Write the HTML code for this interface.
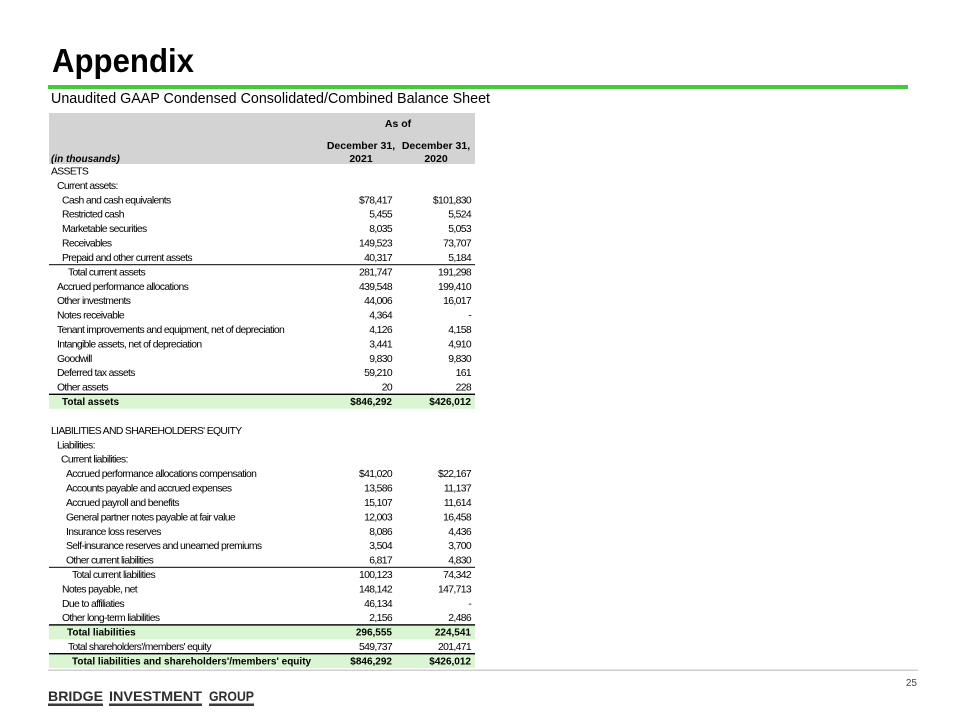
<!DOCTYPE html>
<html>
<head>
<meta charset="utf-8">
<style>
html,body{margin:0;padding:0;background:#fff;}
svg{display:block;}
.r{font-family:"Liberation Sans",Arial,sans-serif;font-size:10.4px;letter-spacing:-0.65px;fill:#000;}
.b{font-family:"Liberation Sans",Arial,sans-serif;font-size:10px;font-weight:bold;fill:#000;}
.h{font-family:"Liberation Sans",Arial,sans-serif;font-size:10.5px;font-weight:bold;fill:#000;}
.logo{font-family:"Liberation Sans",Arial,sans-serif;font-size:14px;font-weight:bold;fill:#2e2e2e;}
</style>
</head>
<body>
<svg width="960" height="720" viewBox="0 0 960 720" xmlns="http://www.w3.org/2000/svg">
<rect x="0" y="0" width="960" height="720" fill="#fff"/>

<!-- Title -->
<text x="52" y="72" font-family="'Liberation Sans',Arial,sans-serif" font-size="33" font-weight="bold" fill="#000" textLength="142" lengthAdjust="spacingAndGlyphs">Appendix</text>
<rect x="48" y="85" width="860" height="4" fill="#45c93b"/>
<text x="51" y="103" font-family="'Liberation Sans',Arial,sans-serif" font-size="14.5" fill="#000" textLength="439" lengthAdjust="spacingAndGlyphs">Unaudited GAAP Condensed Consolidated/Combined Balance Sheet</text>

<!-- Header -->
<rect x="49" y="113" width="426" height="51" fill="#d3d3d3"/>
<text class="h" x="398" y="127" text-anchor="middle">As of</text>
<text class="h" x="361" y="149" text-anchor="middle">December 31,</text>
<text class="h" x="436" y="149" text-anchor="middle">December 31,</text>
<text class="h" x="361" y="162" text-anchor="middle">2021</text>
<text class="h" x="436" y="162" text-anchor="middle">2020</text>
<text class="b" x="51" y="162" font-style="italic">(in thousands)</text>

<!-- Bands -->
<rect x="49" y="394.4" width="426" height="14.4" fill="#d9f5d2"/>
<rect x="49" y="624.9" width="426" height="14.4" fill="#d9f5d2"/>
<rect x="49" y="653.7" width="426" height="14.4" fill="#d9f5d2"/>

<!-- Rules -->
<rect x="49" y="264.2" width="426" height="1" fill="#000"/>
<rect x="49" y="393.6" width="426" height="1.4" fill="#000"/>
<rect x="49" y="566.8" width="426" height="1" fill="#000"/>
<rect x="49" y="624.2" width="426" height="1.4" fill="#000"/>
<rect x="49" y="653.0" width="426" height="1.4" fill="#000"/>

<!-- Assets -->
<text class="r" x="51" y="174.5">ASSETS</text>
<text class="r" x="57" y="188.9">Current assets:</text>

<text class="r" x="62" y="203.3">Cash and cash equivalents</text>
<text class="r" x="392" y="203.3" text-anchor="end">$78,417</text>
<text class="r" x="471" y="203.3" text-anchor="end">$101,830</text>

<text class="r" x="62" y="217.7">Restricted cash</text>
<text class="r" x="392" y="217.7" text-anchor="end">5,455</text>
<text class="r" x="471" y="217.7" text-anchor="end">5,524</text>

<text class="r" x="62" y="232.1">Marketable securities</text>
<text class="r" x="392" y="232.1" text-anchor="end">8,035</text>
<text class="r" x="471" y="232.1" text-anchor="end">5,053</text>

<text class="r" x="62" y="246.6">Receivables</text>
<text class="r" x="392" y="246.6" text-anchor="end">149,523</text>
<text class="r" x="471" y="246.6" text-anchor="end">73,707</text>

<text class="r" x="62" y="261.0">Prepaid and other current assets</text>
<text class="r" x="392" y="261.0" text-anchor="end">40,317</text>
<text class="r" x="471" y="261.0" text-anchor="end">5,184</text>

<text class="r" x="68" y="275.4">Total current assets</text>
<text class="r" x="392" y="275.4" text-anchor="end">281,747</text>
<text class="r" x="471" y="275.4" text-anchor="end">191,298</text>

<text class="r" x="57" y="289.8">Accrued performance allocations</text>
<text class="r" x="392" y="289.8" text-anchor="end">439,548</text>
<text class="r" x="471" y="289.8" text-anchor="end">199,410</text>

<text class="r" x="57" y="304.2">Other investments</text>
<text class="r" x="392" y="304.2" text-anchor="end">44,006</text>
<text class="r" x="471" y="304.2" text-anchor="end">16,017</text>

<text class="r" x="57" y="318.6">Notes receivable</text>
<text class="r" x="392" y="318.6" text-anchor="end">4,364</text>
<text class="r" x="471" y="318.6" text-anchor="end">-</text>

<text class="r" x="57" y="333.0">Tenant improvements and equipment, net of depreciation</text>
<text class="r" x="392" y="333.0" text-anchor="end">4,126</text>
<text class="r" x="471" y="333.0" text-anchor="end">4,158</text>

<text class="r" x="57" y="347.4">Intangible assets, net of depreciation</text>
<text class="r" x="392" y="347.4" text-anchor="end">3,441</text>
<text class="r" x="471" y="347.4" text-anchor="end">4,910</text>

<text class="r" x="57" y="361.8">Goodwill</text>
<text class="r" x="392" y="361.8" text-anchor="end">9,830</text>
<text class="r" x="471" y="361.8" text-anchor="end">9,830</text>

<text class="r" x="57" y="376.2">Deferred tax assets</text>
<text class="r" x="392" y="376.2" text-anchor="end">59,210</text>
<text class="r" x="471" y="376.2" text-anchor="end">161</text>

<text class="r" x="57" y="390.7">Other assets</text>
<text class="r" x="392" y="390.7" text-anchor="end">20</text>
<text class="r" x="471" y="390.7" text-anchor="end">228</text>

<text class="b" x="62" y="405.1">Total assets</text>
<text class="b" x="392" y="405.1" text-anchor="end">$846,292</text>
<text class="b" x="471" y="405.1" text-anchor="end">$426,012</text>

<!-- Liabilities -->
<text class="r" x="51" y="433.9">LIABILITIES AND SHAREHOLDERS' EQUITY</text>
<text class="r" x="57" y="448.3">Liabilities:</text>
<text class="r" x="61" y="462.7">Current liabilities:</text>

<text class="r" x="66" y="477.1">Accrued performance allocations compensation</text>
<text class="r" x="392" y="477.1" text-anchor="end">$41,020</text>
<text class="r" x="471" y="477.1" text-anchor="end">$22,167</text>

<text class="r" x="66" y="491.5">Accounts payable and accrued expenses</text>
<text class="r" x="392" y="491.5" text-anchor="end">13,586</text>
<text class="r" x="471" y="491.5" text-anchor="end">11,137</text>

<text class="r" x="66" y="505.9">Accrued payroll and benefits</text>
<text class="r" x="392" y="505.9" text-anchor="end">15,107</text>
<text class="r" x="471" y="505.9" text-anchor="end">11,614</text>

<text class="r" x="66" y="520.3">General partner notes payable at fair value</text>
<text class="r" x="392" y="520.3" text-anchor="end">12,003</text>
<text class="r" x="471" y="520.3" text-anchor="end">16,458</text>

<text class="r" x="66" y="534.8">Insurance loss reserves</text>
<text class="r" x="392" y="534.8" text-anchor="end">8,086</text>
<text class="r" x="471" y="534.8" text-anchor="end">4,436</text>

<text class="r" x="66" y="549.2">Self-insurance reserves and unearned premiums</text>
<text class="r" x="392" y="549.2" text-anchor="end">3,504</text>
<text class="r" x="471" y="549.2" text-anchor="end">3,700</text>

<text class="r" x="66" y="563.6">Other current liabilities</text>
<text class="r" x="392" y="563.6" text-anchor="end">6,817</text>
<text class="r" x="471" y="563.6" text-anchor="end">4,830</text>

<text class="r" x="72" y="578.0">Total current liabilities</text>
<text class="r" x="392" y="578.0" text-anchor="end">100,123</text>
<text class="r" x="471" y="578.0" text-anchor="end">74,342</text>

<text class="r" x="62" y="592.4">Notes payable, net</text>
<text class="r" x="392" y="592.4" text-anchor="end">148,142</text>
<text class="r" x="471" y="592.4" text-anchor="end">147,713</text>

<text class="r" x="62" y="606.8">Due to affiliaties</text>
<text class="r" x="392" y="606.8" text-anchor="end">46,134</text>
<text class="r" x="471" y="606.8" text-anchor="end">-</text>

<text class="r" x="62" y="621.2">Other long-term liabilities</text>
<text class="r" x="392" y="621.2" text-anchor="end">2,156</text>
<text class="r" x="471" y="621.2" text-anchor="end">2,486</text>

<text class="b" x="67" y="635.6">Total liabilities</text>
<text class="b" x="392" y="635.6" text-anchor="end">296,555</text>
<text class="b" x="471" y="635.6" text-anchor="end">224,541</text>

<text class="r" x="68" y="650.0">Total shareholders'/members' equity</text>
<text class="r" x="392" y="650.0" text-anchor="end">549,737</text>
<text class="r" x="471" y="650.0" text-anchor="end">201,471</text>

<text class="b" x="72" y="664.4">Total liabilities and shareholders'/members' equity</text>
<text class="b" x="392" y="664.4" text-anchor="end">$846,292</text>
<text class="b" x="471" y="664.4" text-anchor="end">$426,012</text>

<!-- Footer -->
<rect x="48" y="669.5" width="870" height="1.5" fill="#cfcfcf"/>
<text x="917" y="686" text-anchor="end" font-family="'Liberation Sans',Arial,sans-serif" font-size="10" fill="#444">25</text>

<text class="logo" x="48" y="701" textLength="55" lengthAdjust="spacingAndGlyphs">BRIDGE</text>
<text class="logo" x="109" y="701" textLength="93" lengthAdjust="spacingAndGlyphs">INVESTMENT</text>
<text class="logo" x="209" y="701" textLength="45" lengthAdjust="spacingAndGlyphs">GROUP</text>
<rect x="48" y="703.5" width="55" height="2.5" fill="#3a3a3a"/>
<rect x="109" y="703.5" width="93" height="2.5" fill="#3a3a3a"/>
<rect x="209" y="703.5" width="45" height="2.5" fill="#3a3a3a"/>
</svg>
</body>
</html>
